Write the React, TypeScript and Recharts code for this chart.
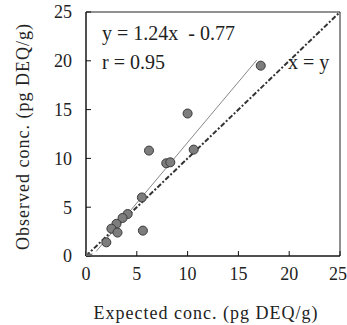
import {
  ReferenceArea,
  ReferenceLine,
  Scatter,
  ScatterChart,
  XAxis,
  YAxis,
  ZAxis,
} from "recharts";

const expected = [17.2, 10.0, 6.2, 10.6, 7.9, 8.3, 5.5, 5.6, 4.1, 3.6, 3.0, 2.5, 3.1, 2.0];
const observed = [19.5, 14.6, 10.8, 10.9, 9.5, 9.6, 6.0, 2.6, 4.3, 3.9, 3.3, 2.8, 2.4, 1.4];
const ticks = [0, 5, 10, 15, 20, 25];

const slope = 1.24;
const intercept = -0.77;
const fitRange = [1, 16.8];

const points = expected.map((x, i) => ({ x, y: observed[i] }));
const fitLine = fitRange.map((x) => ({ x, y: slope * x + intercept }));
const origin = [{ x: 0, y: 0 }];

const font = "Liberation Serif, Times New Roman, serif";
const tickStyle = { fontFamily: font, fontSize: 18, fill: "#222" };

const note = { position: "absolute" as const, fontFamily: font, fontSize: 20, color: "#222", whiteSpace: "pre" as const };

export default function App() {
  return (
    <div style={{ position: "absolute", left: 0, top: 0, width: 347, height: 325, background: "#fff" }}>
      <ScatterChart width={347} height={325} margin={{ top: 12, right: 7, left: 0, bottom: 0 }}>
        <XAxis
          type="number"
          dataKey="x"
          domain={[0, 25]}
          ticks={ticks}
          tickSize={-5}
          tickMargin={16}
          height={69}
          stroke="#111"
          tick={tickStyle}
          allowDataOverflow
        />
        <YAxis
          type="number"
          dataKey="y"
          domain={[0, 25]}
          ticks={ticks}
          tickSize={-5}
          tickMargin={19}
          width={86}
          stroke="#111"
          tick={tickStyle}
          allowDataOverflow
        />
        <ZAxis range={[150, 150]} />
        <ReferenceArea x1={0} x2={25} y1={0} y2={25} fill="none" stroke="#222" strokeWidth={1} />
        <ReferenceLine
          segment={[{ x: 0, y: 0 }, { x: 25, y: 25 }]}
          stroke="#333"
          strokeWidth={2}
          strokeDasharray="5 2 2 2"
        />
        <Scatter
          data={fitLine}
          line={{ stroke: "#888", strokeWidth: 1 }}
          shape={() => null}
          isAnimationActive={false}
        />
        <Scatter data={points} fill="#7d7d7d" stroke="#3a3a3a" strokeWidth={1} isAnimationActive={false} />
        <Scatter data={origin} shape="star" fill="#666" isAnimationActive={false} />
      </ScatterChart>
      <div style={{ ...note, left: 102, top: 22 }}>{"y = 1.24x  - 0.77"}</div>
      <div style={{ ...note, left: 102, top: 51 }}>r = 0.95</div>
      <div style={{ ...note, left: 288, top: 51 }}>x = y</div>
      <div
        style={{
          position: "absolute",
          left: 89,
          top: 303,
          width: 234,
          textAlign: "center",
          fontFamily: font,
          fontSize: 18,
          letterSpacing: 1,
          color: "#222",
          whiteSpace: "nowrap",
        }}
      >
        Expected conc. (pg DEQ/g)
      </div>
      <div style={{ position: "absolute", left: 23, top: 137, width: 0, height: 0 }}>
        <div
          style={{
            position: "absolute",
            left: -120,
            top: -11,
            width: 240,
            textAlign: "center",
            transform: "rotate(-90deg)",
            fontFamily: font,
            fontSize: 18,
            letterSpacing: 1,
            color: "#222",
            whiteSpace: "nowrap",
          }}
        >
          Observed conc. (pg DEQ/g)
        </div>
      </div>
    </div>
  );
}
